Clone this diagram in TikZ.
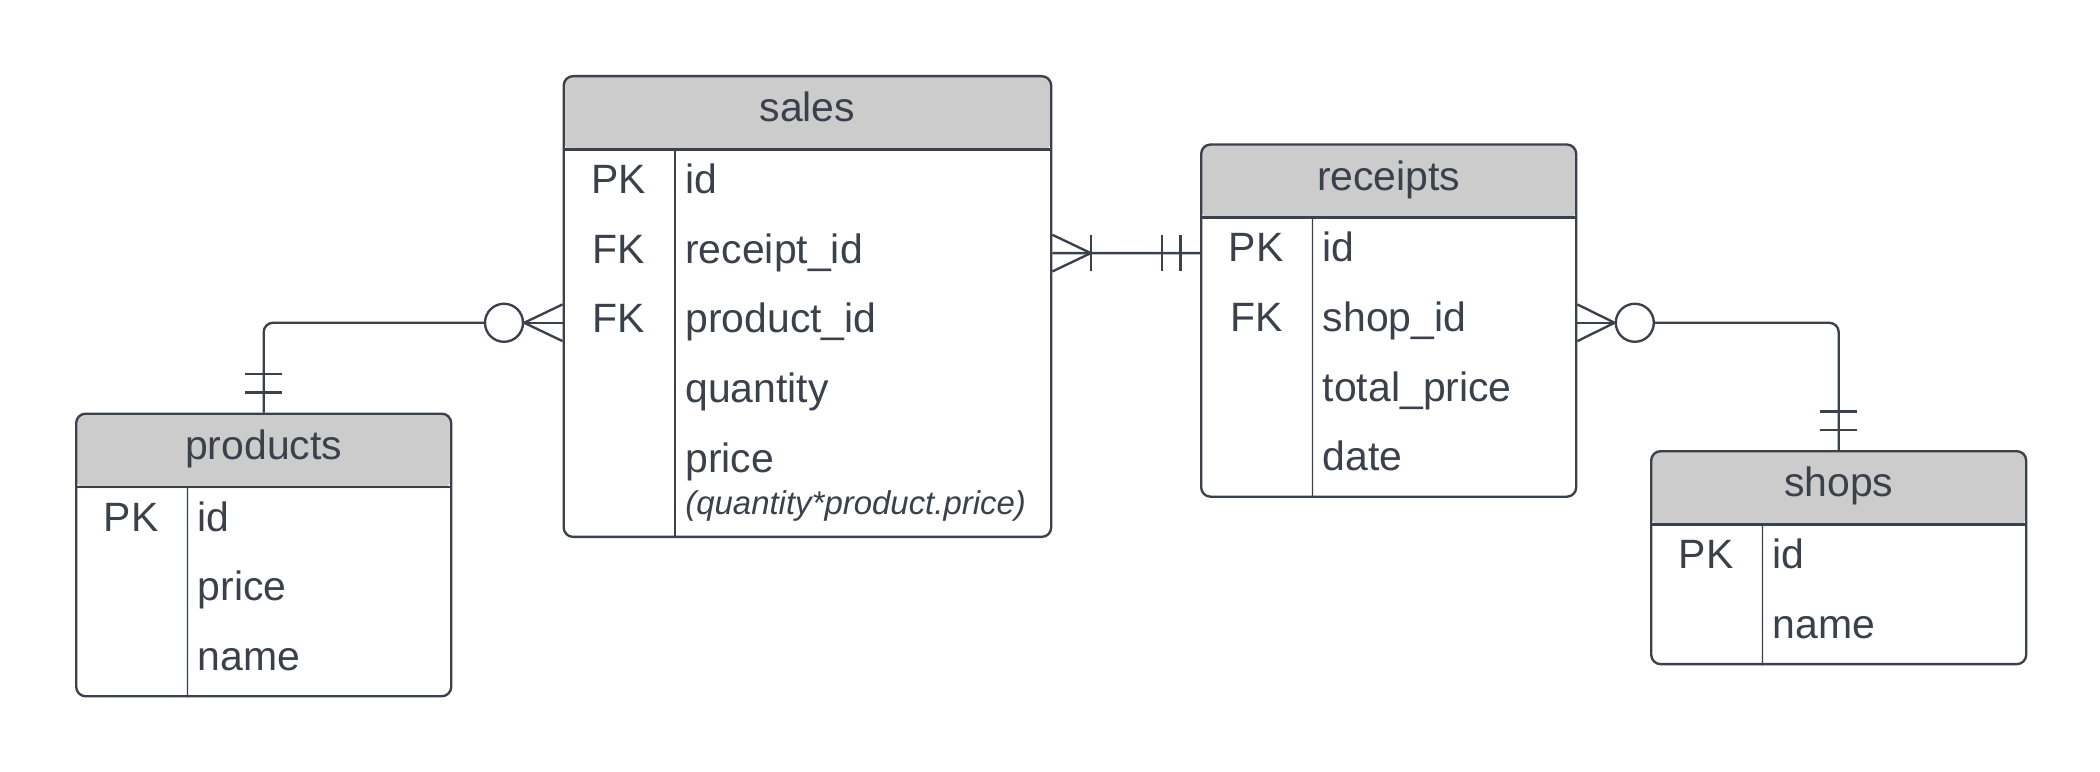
\documentclass[tikz,border=0pt]{standalone}
\usepackage{fontspec}
\setmainfont{Liberation Sans}
\usetikzlibrary{positioning}
\definecolor{ink}{RGB}{58,65,74}
\definecolor{headgray}{RGB}{204,204,204}
\newcommand{\erfont}{\fontsize{8.7}{10.4}\selectfont}

\begin{document}
\begin{tikzpicture}[
    tablebox/.style={draw=ink, line width=0.5pt, rounded corners=2pt,
      anchor=north west, inner sep=0pt, minimum width=2.8cm,
      path picture={\fill[headgray] (path picture bounding box.north west)
        rectangle ([yshift=-0.555cm]path picture bounding box.north east);}},
    title/.style={anchor=base, text=ink, font=\erfont},
    keyname/.style={anchor=base, text=ink, font=\erfont},
    field/.style={anchor=base west, inner xsep=0pt, text=ink, font=\erfont},
    rule/.style={draw=ink, line width=0.5pt},
    divider/.style={draw=ink, line width=0.3pt},
    rel/.style={draw=ink, line width=0.5pt},
    zero/.style={draw=ink, line width=0.5pt, circle, minimum size=0.284cm, inner sep=0pt}
  ]
    \useasboundingbox (0,0) rectangle (15.68,-5.757);

    % sales
    \node[tablebox, minimum width=3.64cm, minimum height=3.44cm] (sales) at (4.20,-0.56) {};
    \node[title] (sales-title) at ([yshift=-0.35cm]sales.north) {sales};
    \draw[rule] ([yshift=-0.555cm]sales.north west) -- ([yshift=-0.555cm]sales.north east);
    \draw[divider] ([shift={(0.84,-0.555)}]sales.north west) -- ([xshift=0.84cm]sales.south west);
    \foreach \k/\f [count=\i from 0] in {PK/id, FK/receipt\_id, FK/product\_id, /quantity, /price}{
      \node[keyname] (sales-k\i) at ([shift={(0.42,-0.885-0.52*\i)}]sales.north west) {\k};
      \node[field] (sales-f\i) at ([shift={(0.91,-0.885-0.52*\i)}]sales.north west) {\f};
    }
    \node[field, font=\itshape\fontsize{7}{8}\selectfont] (sales-note)
      at ([shift={(0.91,-3.28)}]sales.north west) {(quantity*product.price)};

    % receipts
    \node[tablebox, minimum height=2.63cm] (receipts) at (8.96,-1.07) {};
    \node[title] (receipts-title) at ([yshift=-0.35cm]receipts.north) {receipts};
    \draw[rule] ([yshift=-0.555cm]receipts.north west) -- ([yshift=-0.555cm]receipts.north east);
    \draw[divider] ([shift={(0.84,-0.555)}]receipts.north west) -- ([xshift=0.84cm]receipts.south west);
    \foreach \k/\f [count=\i from 0] in {PK/id, FK/shop\_id, /total\_price, /date}{
      \node[keyname] (receipts-k\i) at ([shift={(0.42,-0.885-0.52*\i)}]receipts.north west) {\k};
      \node[field] (receipts-f\i) at ([shift={(0.91,-0.885-0.52*\i)}]receipts.north west) {\f};
    }

    % products
    \node[tablebox, minimum height=2.11cm] (products) at (0.56,-3.08) {};
    \node[title] (products-title) at ([yshift=-0.35cm]products.north) {products};
    \draw[rule] ([yshift=-0.555cm]products.north west) -- ([yshift=-0.555cm]products.north east);
    \draw[divider] ([shift={(0.84,-0.555)}]products.north west) -- ([xshift=0.84cm]products.south west);
    \foreach \k/\f [count=\i from 0] in {PK/id, /price, /name}{
      \node[keyname] (products-k\i) at ([shift={(0.42,-0.885-0.52*\i)}]products.north west) {\k};
      \node[field] (products-f\i) at ([shift={(0.91,-0.885-0.52*\i)}]products.north west) {\f};
    }

    % shops
    \node[tablebox, minimum height=1.59cm] (shops) at (12.32,-3.36) {};
    \node[title] (shops-title) at ([yshift=-0.35cm]shops.north) {shops};
    \draw[rule] ([yshift=-0.555cm]shops.north west) -- ([yshift=-0.555cm]shops.north east);
    \draw[divider] ([shift={(0.84,-0.555)}]shops.north west) -- ([xshift=0.84cm]shops.south west);
    \foreach \k/\f [count=\i from 0] in {PK/id, /name}{
      \node[keyname] (shops-k\i) at ([shift={(0.42,-0.885-0.52*\i)}]shops.north west) {\k};
      \node[field] (shops-f\i) at ([shift={(0.91,-0.885-0.52*\i)}]shops.north west) {\f};
    }

    % products -- sales (one and only one / zero or many)
    \coordinate (sales-in) at ([yshift=-1.85cm]sales.north west);
    \node[zero, left=0.286cm of sales-in] (ps-zero) {};
    \draw[rel, rounded corners=2pt] (products.north) |- (ps-zero.west);
    \draw[rel] (ps-zero.east) -- (sales-in);
    \draw[rel] ([yshift=0.137cm]sales-in) -- (ps-zero.east) -- ([yshift=-0.137cm]sales-in);
    \draw[rel] ([shift={(-0.137,0.287)}]products.north) -- ++(0.274,0);
    \draw[rel] ([shift={(-0.137,0.150)}]products.north) -- ++(0.274,0);

    % sales -- receipts (one or many / one and only one)
    \coordinate (sales-out) at ([yshift=-1.33cm]sales.north east);
    \coordinate (receipts-in) at ([yshift=-0.82cm]receipts.north west);
    \draw[rel] (sales-out) -- (receipts-in);
    \draw[rel] ([yshift=0.137cm]sales-out) -- ([xshift=0.287cm]sales-out) -- ([yshift=-0.137cm]sales-out);
    \draw[rel] ([shift={(0.29,0.137)}]sales-out) -- ++(0,-0.274);
    \draw[rel] ([shift={(-0.284,0.137)}]receipts-in) -- ++(0,-0.274);
    \draw[rel] ([shift={(-0.147,0.137)}]receipts-in) -- ++(0,-0.274);

    % receipts -- shops (zero or many / one and only one)
    \coordinate (receipts-out) at ([yshift=-1.34cm]receipts.north east);
    \node[zero, right=0.278cm of receipts-out] (rs-zero) {};
    \draw[rel] (receipts-out) -- (rs-zero.west);
    \draw[rel] ([yshift=0.137cm]receipts-out) -- (rs-zero.west) -- ([yshift=-0.137cm]receipts-out);
    \draw[rel, rounded corners=2pt] (rs-zero.east) -| (shops.north);
    \draw[rel] ([shift={(-0.137,0.287)}]shops.north) -- ++(0.274,0);
    \draw[rel] ([shift={(-0.137,0.150)}]shops.north) -- ++(0.274,0);
\end{tikzpicture}
\end{document}
